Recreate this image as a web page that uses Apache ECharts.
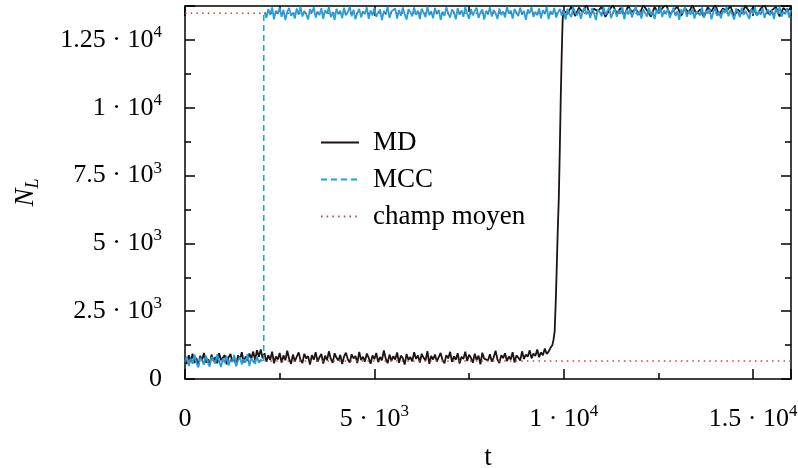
<!DOCTYPE html>
<html>
<head>
<meta charset="utf-8">
<script src="https://cdn.jsdelivr.net/npm/echarts@6/dist/echarts.min.js"></script>
<style>
  html, body { margin: 0; padding: 0; background: #fff; }
  #main { width: 798px; height: 468px; }
</style>
</head>
<body>
<div id="main"></div>
<script>
// MD: t = 0..9600, pas de 50
const mdLow = [
  720, 560, 880, 640, 930, 590, 780, 470, 850, 690, 960, 610, 740, 520, 900, 670, 810, 580, 950, 700,
  630, 880, 540, 790, 920, 650, 760, 500, 870, 720, 990, 610, 830, 680, 940, 760, 1010, 700, 1060, 820, 1090,
  760, 950, 640, 880, 700, 1010, 580, 830, 720, 960,
  610, 870, 690, 1040, 740, 560, 900, 650, 820, 980,
  700, 590, 930, 760, 840, 530, 880, 710, 990, 640,
  800, 920, 570, 860, 690, 1020, 740, 600, 950, 780,
  680, 890, 550, 830, 970, 720, 610, 910, 760, 850,
  590, 1000, 700, 820, 640, 940, 780, 560, 870, 730,
  960, 620, 810, 690, 1050, 750, 580, 900, 670, 840,
  720, 980, 600, 860, 770, 530, 920, 700, 810, 650,
  990, 740, 870, 610, 930, 780, 680, 1030, 560, 850,
  720, 900, 640, 810, 960, 690, 580, 880, 760, 1000,
  630, 840, 710, 950, 570, 820, 740, 1010, 660, 890,
  780, 600, 930, 700, 860, 540, 970, 750, 820, 680,
  910, 640, 800, 1040, 720, 590, 880, 770, 950, 660,
  830, 720, 990, 610, 870, 790, 680, 1020, 740, 900,
  820, 1060, 760, 940, 850, 1090, 800, 980, 880, 1120,
  920, 1010
];
// MD: montée vers l'état haut
const mdRiseT = [9650, 9700, 9730, 9760, 9790, 9815, 9840, 9870, 9895, 9920, 9945, 9970, 9990];
const mdRiseN = [1150, 1250, 1450, 1750, 2900, 4100, 5400, 6700, 8400, 10300, 11900, 13200, 13600];
// MD: t = 10000..16000, pas de 100
const mdHigh = [
  13620, 13450, 13740, 13380, 13690, 13520, 13800, 13410, 13650, 13560,
  13720, 13350, 13600, 13780, 13470, 13680, 13400, 13750, 13530, 13640,
  13430, 13790, 13580, 13360, 13710, 13490, 13660, 13820, 13440, 13600,
  13730, 13390, 13670, 13510, 13780, 13460, 13630, 13340, 13700, 13550,
  13800, 13420, 13660, 13570, 13740, 13380, 13620, 13480, 13760, 13530,
  13690, 13410, 13650, 13790, 13460, 13600, 13720, 13370, 13680, 13540,
  13710
];
// MCC: t = 0..2050, pas de 50
const mccLow = [
  640, 820, 480, 750, 560, 900, 610, 430, 780, 680,
  530, 870, 620, 460, 810, 700, 570, 910, 650, 440,
  760, 590, 850, 500, 720, 630, 890, 470, 680, 800,
  540, 730, 610, 920, 480, 770, 650, 560, 840, 600,
  710, 660
];
const mccJumpT = 2080;
// MCC: t = 2100..16000, pas de 50
const mccHigh = [
  13520, 13310, 13640, 13420, 13700, 13260, 13580, 13460, 13690, 13350,
  13610, 13230, 13540, 13680, 13390, 13500, 13290, 13660, 13430, 13720,
  13360, 13570, 13450, 13250, 13630, 13490, 13700, 13320, 13550, 13410,
  13670, 13280, 13600, 13470, 13710, 13340, 13530, 13240, 13650, 13440,
  13580, 13300, 13690, 13410, 13520, 13720, 13370, 13610, 13260, 13490,
  13640, 13330, 13560, 13450, 13700, 13280, 13590, 13400, 13680, 13350,
  13510, 13620, 13230, 13570, 13440, 13710, 13310, 13550, 13480, 13660,
  13290, 13600, 13390, 13690, 13460, 13250, 13630, 13520, 13370, 13700,
  13420, 13580, 13270, 13650, 13500, 13340, 13720, 13410, 13560, 13300,
  13680, 13450, 13610, 13240, 13540, 13390, 13700, 13480, 13320, 13620,
  13530, 13260, 13670, 13430, 13590, 13350, 13710, 13470, 13280, 13640,
  13400, 13560, 13690, 13310, 13510, 13620, 13250, 13580, 13440, 13700,
  13360, 13600, 13490, 13270, 13660, 13420, 13550, 13330, 13720, 13460,
  13590, 13290, 13640, 13510, 13380, 13690, 13430, 13570, 13240, 13620,
  13480, 13700, 13350, 13540, 13410, 13660, 13300, 13600, 13450, 13710,
  13270, 13560, 13430, 13680, 13320, 13520, 13640, 13390, 13580, 13250,
  13650, 13470, 13340, 13700, 13500, 13410, 13610, 13280, 13550, 13690,
  13440, 13590, 13310, 13670, 13480, 13230, 13620, 13530, 13370, 13710,
  13420, 13560, 13690, 13300, 13510, 13640, 13350, 13580, 13460, 13700,
  13260, 13600, 13440, 13660, 13330, 13540, 13720, 13400, 13570, 13290,
  13630, 13490, 13360, 13680, 13420, 13550, 13270, 13610, 13470, 13700,
  13340, 13590, 13450, 13650, 13310, 13520, 13690, 13380, 13560, 13240,
  13620, 13480, 13710, 13350, 13570, 13430, 13660, 13290, 13540, 13600,
  13410, 13700, 13320, 13580, 13460, 13640, 13260, 13530, 13680, 13390,
  13550, 13300, 13620, 13490, 13720, 13370, 13590, 13440, 13250, 13660,
  13510, 13340, 13690, 13420, 13570, 13610, 13280, 13640, 13460, 13700,
  13380, 13560, 13430, 13670, 13310, 13530, 13620, 13400, 13590, 13270,
  13650, 13480, 13710, 13360, 13540, 13450, 13680, 13320, 13600
];
// champ moyen: deux points fixes
const champMoyen = [660, 13480];

const tMax = 16000;
const xLabels = [0, 5000, 10000, 15000];
const yLabels = [0, 2500, 5000, 7500, 10000, 12500];

const FONT = 'Liberation Serif';
const BLACK = '#000';
const MD_COLOR = '#1c1414';
const CYAN = '#1ba3e2';
const RED = '#e2323c';

function sci(v) {
    if (v === 0) return '{m|0}';
    const e = Math.floor(Math.log10(v) + 1e-9);
    const m = +(v / Math.pow(10, e)).toFixed(3);
    return '{m|' + m + ' · 10}{s|' + e + '}';
}

const labelRich = {
    m: { fontFamily: FONT, fontSize: 26, color: BLACK, lineHeight: 32 },
    s: { fontFamily: FONT, fontSize: 17, color: BLACK, lineHeight: 17, verticalAlign: 'top' }
};

const mdData = []
    .concat(mdLow.map((v, i) => [i * 50, v]))
    .concat(mdRiseT.map((t, i) => [t, mdRiseN[i]]))
    .concat(mdHigh.map((v, i) => [10000 + i * 100, v]));
const mccLowData = mccLow.map((v, i) => [i * 50, v]);
const mccHighData = mccHigh.map((v, i) => [2100 + i * 50, v]);
const mccJumpData = [[mccJumpT, mccLow[mccLow.length - 1]], [mccJumpT, mccHigh[0]]];

const frame = { show: true, onZero: false, lineStyle: { color: BLACK, width: 1.5 } };
const tick = { inside: true, length: 10, lineStyle: { color: BLACK, width: 1.5 } };
const minor = { show: true, splitNumber: 2, length: 6, lineStyle: { color: BLACK, width: 1.5 } };

const chart = echarts.init(document.getElementById('main'));
chart.setOption({
    animation: false,
    grid: { left: 185, right: 7, top: 6, bottom: 89, containLabel: false, outerBoundsMode: 'none' },
    legend: {
        data: ['MD', 'MCC', 'champ moyen'],
        orient: 'vertical',
        left: 315,
        top: 124,
        itemWidth: 38,
        itemHeight: 24,
        itemGap: 10,
        itemStyle: { opacity: 0 },
        textStyle: { fontFamily: FONT, fontSize: 27, color: BLACK, lineHeight: 24, padding: [0, 0, 0, 9] }
    },
    xAxis: [
        {
            type: 'value', min: 0, max: tMax, interval: 5000,
            axisLine: frame, axisTick: tick, minorTick: minor,
            splitLine: { show: false },
            axisLabel: {
                margin: 24, showMaxLabel: false,
                formatter: v => xLabels.indexOf(v) >= 0 ? sci(v) : '',
                rich: labelRich
            },
            name: 't', nameLocation: 'middle', nameGap: 65,
            nameTextStyle: { fontFamily: FONT, fontSize: 27, color: BLACK }
        },
        {
            type: 'value', position: 'top', min: 0, max: tMax, interval: 5000,
            axisLine: frame, axisTick: tick, minorTick: minor,
            splitLine: { show: false },
            axisLabel: { show: false }
        }
    ],
    yAxis: [
        {
            type: 'value', min: 0, max: 13750, interval: 2500,
            axisLine: frame, axisTick: tick, minorTick: minor,
            splitLine: { show: false },
            axisLabel: {
                margin: 23, showMaxLabel: false,
                formatter: v => yLabels.indexOf(v) >= 0 ? sci(v) : '',
                rich: labelRich
            },
            name: '{n|N}{l|L}', nameLocation: 'middle', nameGap: 143, nameRotate: 90,
            nameTextStyle: {
                rich: {
                    n: { fontFamily: FONT, fontStyle: 'italic', fontSize: 27, color: BLACK, lineHeight: 32 },
                    l: { fontFamily: FONT, fontStyle: 'italic', fontSize: 18, color: BLACK, lineHeight: 18, verticalAlign: 'bottom' }
                }
            }
        },
        {
            type: 'value', position: 'right', min: 0, max: 13750, interval: 2500,
            axisLine: frame, axisTick: tick, minorTick: minor,
            splitLine: { show: false },
            axisLabel: { show: false }
        }
    ],
    series: [
        {
            name: 'MD', type: 'line', symbol: 'none', data: mdData,
            lineStyle: { color: MD_COLOR, width: 1.8 }, itemStyle: { color: MD_COLOR }
        },
        {
            name: 'mcc-bas', type: 'line', symbol: 'none', data: mccLowData,
            lineStyle: { color: CYAN, width: 1.8 }
        },
        {
            name: 'mcc-haut', type: 'line', symbol: 'none', data: mccHighData,
            lineStyle: { color: CYAN, width: 1.8 }
        },
        {
            name: 'MCC', type: 'line', symbol: 'none', data: mccJumpData,
            lineStyle: { color: CYAN, width: 1.5, type: [6, 4] }, itemStyle: { color: CYAN }
        },
        {
            name: 'champ moyen', type: 'line', symbol: 'none',
            data: [[0, champMoyen[0]], [tMax, champMoyen[0]]],
            lineStyle: { color: RED, width: 1.5, type: [1.5, 4.2] }, itemStyle: { color: RED }
        },
        {
            name: 'champ moyen', type: 'line', symbol: 'none',
            data: [[0, champMoyen[1]], [tMax, champMoyen[1]]],
            lineStyle: { color: RED, width: 1.5, type: [1.5, 4.2] }, itemStyle: { color: RED }
        }
    ]
});
</script>
</body>
</html>
